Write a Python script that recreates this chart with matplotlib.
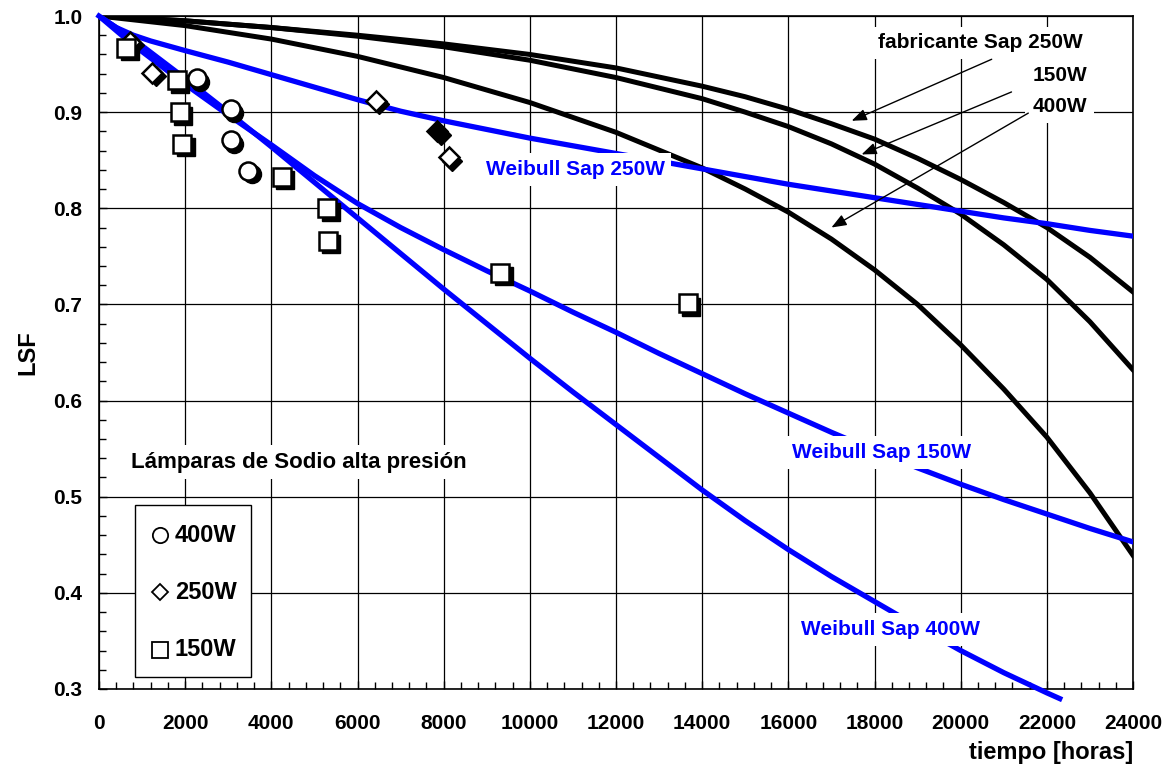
import matplotlib
matplotlib.use("Agg")
import matplotlib.pyplot as plt
from matplotlib.transforms import ScaledTranslation
from matplotlib.patches import Rectangle

plt.rcParams['font.family'] = ['Liberation Sans', 'DejaVu Sans']
plt.rcParams['font.weight'] = 'bold'

# ---- measured lamp survival (LSF) points ----
t_400 = [2270, 3060, 3060, 3460]
lsf_400 = [0.935, 0.903, 0.871, 0.839]

t_250 = [730, 1240, 6420, 8120]
lsf_250 = [0.973, 0.941, 0.912, 0.853]
t_250_solid = [7850]
lsf_250_solid = [0.880]

t_150 = [630, 1800, 1880, 1930, 4240, 5300, 5310, 9310, 13660]
lsf_150 = [0.967, 0.933, 0.900, 0.867, 0.833, 0.800, 0.766, 0.733, 0.701]

# ---- manufacturer curves ----
t_fab = [0, 2000, 4000, 6000, 8000, 10000, 12000, 14000, 15000, 16000, 17000, 18000,
         19000, 20000, 21000, 22000, 23000, 24000]
fab_250 = [1.0, 0.995, 0.988, 0.980, 0.971, 0.960, 0.946, 0.927, 0.916, 0.903, 0.888, 0.872,
           0.852, 0.830, 0.806, 0.780, 0.749, 0.713]
fab_150 = [1.0, 0.995, 0.988, 0.979, 0.968, 0.954, 0.936, 0.914, 0.900, 0.885, 0.867, 0.846,
           0.821, 0.794, 0.762, 0.726, 0.682, 0.632]
fab_400 = [1.0, 0.990, 0.976, 0.958, 0.936, 0.910, 0.879, 0.842, 0.820, 0.796, 0.768, 0.736,
           0.700, 0.658, 0.612, 0.562, 0.504, 0.439]

# ---- Weibull fits ----
t_w250 = [0, 400, 800, 1200, 2000, 3000, 4000, 5000, 6000, 7000, 8000, 9000, 10000, 11000,
          12000, 13000, 14000, 15000, 16000, 17000, 18000, 19000, 20000, 21000, 22000, 23000, 24000]
w250 = [1.0, 0.988, 0.980, 0.974, 0.964, 0.952, 0.939, 0.926, 0.913, 0.901, 0.891, 0.882, 0.873,
        0.865, 0.857, 0.849, 0.841, 0.833, 0.825, 0.818, 0.811, 0.804, 0.797, 0.790, 0.784, 0.777, 0.771]

t_w150 = [0, 500, 1000, 1500, 2000, 3000, 4000, 5000, 6000, 7000, 8000, 9000, 10000, 11000, 12000,
          13000, 14000, 15000, 16000, 17000, 18000, 19000, 20000, 21000, 22000, 23000, 24000]
w150 = [1.0, 0.981, 0.963, 0.946, 0.929, 0.897, 0.866, 0.834, 0.805, 0.780, 0.757, 0.735, 0.714,
        0.692, 0.671, 0.649, 0.628, 0.607, 0.587, 0.567, 0.548, 0.530, 0.513, 0.497, 0.482, 0.467, 0.453]

t_w400 = [0, 500, 1000, 1500, 2000, 3000, 4000, 5000, 6000, 7000, 8000, 9000, 10000, 11000, 12000,
          13000, 14000, 15000, 16000, 17000, 18000, 19000, 20000, 21000, 22000, 22300]
w400 = [1.0, 0.985, 0.969, 0.952, 0.935, 0.900, 0.864, 0.827, 0.790, 0.753, 0.716, 0.680, 0.644,
        0.609, 0.575, 0.541, 0.507, 0.475, 0.445, 0.417, 0.391, 0.365, 0.340, 0.317, 0.296, 0.290]

BLUE = '#0000ff'

fig = plt.figure(figsize=(11.76, 7.73), dpi=100)
ax = fig.add_axes([99/1176, 84/773, 1034/1176, 673/773])

ax.set_xlim(0, 24000)
ax.set_ylim(0.3, 1.0)
ax.set_xticks(range(0, 24001, 2000))
ax.set_yticks([0.3, 0.4, 0.5, 0.6, 0.7, 0.8, 0.9, 1.0])
ax.set_yticklabels(['0.3', '0.4', '0.5', '0.6', '0.7', '0.8', '0.9', '1.0'])
ax.set_xticks(range(0, 24001, 400), minor=True)
ax.set_yticks([0.3 + 0.02 * i for i in range(36)], minor=True)
ax.grid(True, which='major', color='black', linewidth=0.9)
ax.tick_params(which='both', direction='in', labelsize=15, color='black')
ax.tick_params(which='major', length=6, width=1)
ax.tick_params(which='minor', length=5, width=1)
ax.tick_params(axis='x', pad=18)
ax.tick_params(axis='y', pad=12)
for sp in ax.spines.values():
    sp.set_linewidth(1.2)
    sp.set_color('black')
ax.set_axisbelow(True)

ax.set_ylabel('LSF', fontsize=17, fontweight='bold', labelpad=10)
ax.set_xlabel('tiempo [horas]', fontsize=17, fontweight='bold', loc='right', labelpad=6)

# curves
ax.plot(t_fab, fab_250, color='black', lw=3.6, zorder=3)
ax.plot(t_fab, fab_150, color='black', lw=3.6, zorder=3)
ax.plot(t_fab, fab_400, color='black', lw=3.6, zorder=3)
ax.plot(t_w250, w250, color=BLUE, lw=3.8, zorder=3)
ax.plot(t_w150, w150, color=BLUE, lw=3.8, zorder=3)
ax.plot(t_w400, w400, color=BLUE, lw=3.8, zorder=3, clip_on=False)

# data markers with drop shadow
shadow = ax.transData + ScaledTranslation(3.5/100, -3.5/100, fig.dpi_scale_trans)
def points(t, v, marker, size, face='white'):
    ax.plot(t, v, ls='none', marker=marker, ms=size, mfc='black', mec='black',
            transform=shadow, zorder=5, clip_on=False)
    ax.plot(t, v, ls='none', marker=marker, ms=size, mfc=face, mec='black', mew=1.8,
            zorder=6, clip_on=False)

points(t_400, lsf_400, 'o', 13)
points(t_250, lsf_250, 'D', 10)
points(t_250_solid, lsf_250_solid, 'D', 10, face='black')
points(t_150, lsf_150, 's', 12.5)

box = dict(facecolor='white', edgecolor='none', pad=5)
ax.text(11050, 0.840, 'Weibull Sap 250W', color=BLUE, fontsize=15, fontweight='bold',
        ha='center', va='center', bbox=box, zorder=7)
ax.text(18175, 0.546, 'Weibull Sap 150W', color=BLUE, fontsize=15, fontweight='bold',
        ha='center', va='center', bbox=box, zorder=7)
ax.text(18360, 0.362, 'Weibull Sap 400W', color=BLUE, fontsize=15, fontweight='bold',
        ha='center', va='center', bbox=box, zorder=7)
ax.text(740, 0.536, 'Lámparas de Sodio alta presión', color='black', fontsize=16,
        fontweight='bold', ha='left', va='center', bbox=box, zorder=7)

ax.text(22840, 0.972, 'fabricante Sap 250W', fontsize=15, fontweight='bold',
        ha='right', va='center', bbox=box, zorder=7)
ax.text(22930, 0.938, '150W', fontsize=15, fontweight='bold',
        ha='right', va='center', bbox=box, zorder=7)
ax.text(22930, 0.906, '400W', fontsize=15, fontweight='bold',
        ha='right', va='center', bbox=box, zorder=7)

arrow = dict(arrowstyle='-|>,head_length=0.9,head_width=0.35', color='black', lw=1.0,
             shrinkA=0, shrinkB=0)
ax.annotate('', xy=(17470, 0.891), xytext=(20720, 0.955), arrowprops=arrow, zorder=8)
ax.annotate('', xy=(17700, 0.856), xytext=(21180, 0.921), arrowprops=arrow, zorder=8)
ax.annotate('', xy=(17000, 0.780), xytext=(21570, 0.899), arrowprops=arrow, zorder=8)

# legend box for the measured series
ax.add_patch(Rectangle((0.0348, 0.0174), 0.1125, 0.2566, transform=ax.transAxes,
                       facecolor='white', edgecolor='black', lw=1.0, zorder=9))
legend_rows = [('o', 11, '400W', 0.2288), ('D', 8.5, '250W', 0.1441), ('s', 11, '150W', 0.058)]
for mk, ms, label, yy in legend_rows:
    ax.plot([0.059], [yy], ls='none', marker=mk, ms=ms, mfc='white', mec='black', mew=1.3,
            transform=ax.transAxes, zorder=10, clip_on=False)
    ax.text(0.0735, yy, label, transform=ax.transAxes, fontsize=17, fontweight='bold',
            ha='left', va='center', zorder=10)

fig.savefig('out.png', dpi=100)
